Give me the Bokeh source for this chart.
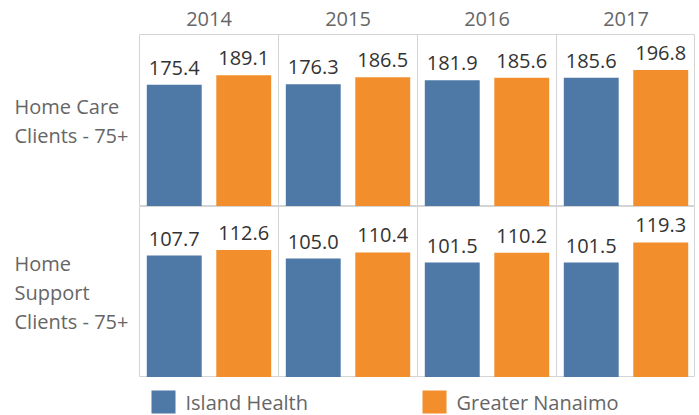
from bokeh.plotting import figure
from bokeh.models import FactorRange, Range1d, Span, ColumnDataSource, Spacer
from bokeh.layouts import column, row
from bokeh.core.properties import value
from bokeh.embed import file_html
from bokeh.resources import INLINE

# ---- data ----
years = ["2014", "2015", "2016", "2017"]
series = ["Island Health", "Greater Nanaimo"]
row_labels = ["Home Care\nClients - 75+", "Home\nSupport\nClients - 75+"]
home_care_island = [175.4, 176.3, 181.9, 185.6]
home_care_nanaimo = [189.1, 186.5, 185.6, 196.8]
home_support_island = [107.7, 105.0, 101.5, 101.5]
home_support_nanaimo = [112.6, 110.4, 110.2, 119.3]
row_axis_max = [248, 151]

# ---- style ----
BLUE = "#4e79a7"
ORANGE = "#f28e2b"
FONT = value("Open Sans")
FS = "20px"
GRID = "#d4d4d4"
LABEL_W = 139
PLOT_W = 556
TOTAL_W = 699
HEADER_H = 34
ROW_H = [172, 171]
LEGEND_H = 38
BASE_FIX = 8  # rendered alphabetic baseline sits ~8px lower than requested


def base_fig(w, h, x_range, y_range):
    p = figure(width=w, height=h, x_range=x_range, y_range=y_range,
               toolbar_location=None, output_backend="svg", min_border=0,
               x_axis_location=None, y_axis_location=None)
    p.outline_line_color = None
    p.grid.visible = False
    p.background_fill_color = "white"
    p.border_fill_color = "white"
    return p


# header with years
header = base_fig(PLOT_W, HEADER_H, FactorRange(*years), Range1d(HEADER_H, 0))
header.text(x=years, y=[26 - BASE_FIX] * len(years), text=years, text_align="center",
            text_baseline="alphabetic", text_font=FONT, text_font_size=FS,
            text_color="#666666")

rows = []
data_rows = [(home_care_island, home_care_nanaimo), (home_support_island, home_support_nanaimo)]
for r, ((isl, nan), lab, ymax, h) in enumerate(zip(data_rows, row_labels, row_axis_max, ROW_H)):
    # label figure
    lf = base_fig(LABEL_W, h, Range1d(0, LABEL_W), Range1d(h, 0))
    lines = lab.split("\n")
    n = len(lines)
    ys = [h / 2 + (i - (n - 1) / 2) * 29 + 8.5 - BASE_FIX for i in range(n)]
    lf.text(x=[14] * n, y=ys, text=lines, text_align="left", text_baseline="alphabetic",
            text_font=FONT, text_font_size=FS, text_color="#666666")

    factors = [(y, s) for y in years for s in series]
    vals = []
    cols = []
    for i in range(len(years)):
        vals += [isl[i], nan[i]]
        cols += [BLUE, ORANGE]
    src = ColumnDataSource(dict(x=factors, top=vals, color=cols,
                                label=[f"{v:.1f}" for v in vals]))
    xr = FactorRange(*factors, factor_padding=0, group_padding=0,
                     subgroup_padding=0, range_padding=0)
    p = base_fig(PLOT_W, h, xr, Range1d(0, ymax))
    p.outline_line_color = GRID
    p.outline_line_width = 1
    p.vbar(x="x", top="top", width=0.79, color="color", source=src, line_color=None)
    p.text(x="x", y="top", text="label", source=src, text_align="center",
           text_baseline="alphabetic", y_offset=-9 - BASE_FIX, text_font=FONT,
           text_font_size=FS, text_color="#333333")
    for k in range(1, len(years)):
        p.add_layout(Span(location=k * len(series), dimension="height",
                          line_color=GRID, line_width=1))
    rows.append(row(lf, p))

# legend
leg = base_fig(TOTAL_W, LEGEND_H, Range1d(0, TOTAL_W), Range1d(LEGEND_H, 0))
leg_x = [151, 422]
leg.rect(x=[x + 12 for x in leg_x], y=[24.5] * 2, width=24, height=23,
         color=[BLUE, ORANGE], line_color=None)
leg.text(x=[x + 34 for x in leg_x], y=[33 - BASE_FIX] * 2, text=series, text_align="left",
         text_baseline="alphabetic", text_font=FONT, text_font_size=FS,
         text_color="#666666")

layout = column(row(Spacer(width=LABEL_W, height=HEADER_H), header), rows[0], rows[1], leg)

open("out.html", "w").write(file_html(layout, INLINE))
